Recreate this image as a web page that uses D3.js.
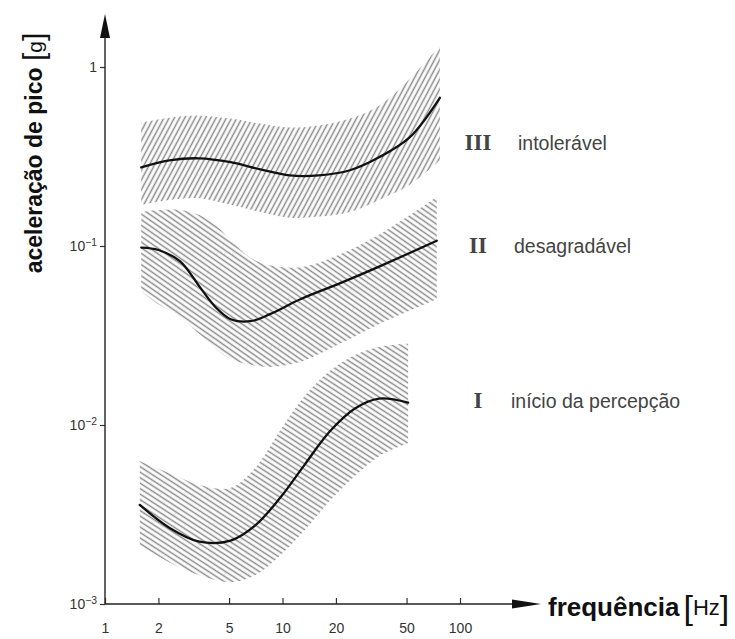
<!DOCTYPE html>
<html><head><meta charset="utf-8">
<script src="https://cdn.jsdelivr.net/npm/d3@7"></script>
<style>body{margin:0;background:#fff}svg{display:block}</style>
</head><body><svg id="c" width="735" height="639"></svg>
<script>
// ---------- data ----------
const xTicks = [1, 2, 5, 10, 20, 50, 100];
const yTicks = [1e-3, 1e-2, 1e-1, 1];
const yTickBase = ["10", "10", "10", "1"];
const yTickExp = ["−3", "−2", "−1", ""];

// Zone III – intolerável
const freqIII = [1.6, 2.3, 3.4, 5.1, 7.5, 11, 16, 24, 35, 52, 77];
const midIII  = [0.275, 0.301, 0.309, 0.294, 0.268, 0.248, 0.248, 0.265, 0.313, 0.404, 0.673];
const upIII   = [0.489, 0.521, 0.535, 0.515, 0.483, 0.459, 0.471, 0.515, 0.608, 0.858, 1.31];
const lowIII  = [0.170, 0.181, 0.185, 0.170, 0.155, 0.144, 0.146, 0.155, 0.181, 0.219, 0.301];

// Zone II – desagradável
const freqII = [1.6, 2.0, 2.65, 3.4, 4.2, 5.1, 6.6, 8.5, 12.6, 21, 35, 74];
const midII  = [0.098, 0.095, 0.082, 0.0595, 0.0455, 0.039, 0.038, 0.0416, 0.0504, 0.0618, 0.0767, 0.107];
const upII   = [0.155, 0.159, 0.159, 0.149, 0.131, 0.108, 0.086, 0.078, 0.076, 0.0895, 0.116, 0.188];
const lowII  = [0.0558, 0.0472, 0.040, 0.0322, 0.0266, 0.0234, 0.0217, 0.0211, 0.0225, 0.0284, 0.0366, 0.0504];

// Zone I – início da percepção
const freqI = [1.57, 2.3, 3.4, 5.1, 7.0, 9.7, 13.4, 18.5, 25.6, 35, 51];
const midI  = [0.00358, 0.00267, 0.00223, 0.00226, 0.00274, 0.00392, 0.00605, 0.00922, 0.01236, 0.01404, 0.01334];
const upI   = [0.00628, 0.00539, 0.00462, 0.00445, 0.00575, 0.00933, 0.0146, 0.0201, 0.0246, 0.0273, 0.0284];
const lowI  = [0.00212, 0.00171, 0.001446, 0.001322, 0.001446, 0.001867, 0.0026, 0.00377, 0.00519, 0.0067, 0.0079];

const zoneNumerals = ["III", "II", "I"];
const zoneNames = ["intolerável", "desagradável", "início da percepção"];

// ---------- drawing ----------
const svg = d3.select("#c");
const x = d3.scaleLog().domain([1, 100]).range([105, 460]);
const y = d3.scaleLog().domain([1e-3, 1]).range([604, 67]);

const defs = svg.append("defs");
function hatch(id, angle, spacing) {
  const p = defs.append("pattern").attr("id", id)
    .attr("patternUnits", "userSpaceOnUse")
    .attr("width", spacing).attr("height", spacing)
    .attr("patternTransform", `rotate(${angle})`);
  p.append("line").attr("x1", -1).attr("x2", spacing + 1)
    .attr("y1", spacing / 2).attr("y2", spacing / 2)
    .attr("stroke", "#8a8a8a").attr("stroke-width", 1.5);
}
hatch("hIII", -62, 4.6);
hatch("hII", 35, 4.6);
hatch("hI", 33, 4.6);
defs.append("filter").attr("id", "soft")
  .append("feGaussianBlur").attr("stdDeviation", 0.45);

const zones = [
  {f: freqIII, m: midIII, u: upIII, l: lowIII, pat: "hIII"},
  {f: freqII,  m: midII,  u: upII,  l: lowII,  pat: "hII"},
  {f: freqI,   m: midI,   u: upI,   l: lowI,   pat: "hI"}
];

const area = d3.area().x(d => x(d.f)).y0(d => y(d.l)).y1(d => y(d.u))
  .curve(d3.curveCatmullRom.alpha(0.5));
const line = d3.line().x(d => x(d.f)).y(d => y(d.m))
  .curve(d3.curveCatmullRom.alpha(0.5));

const bandG = svg.append("g").attr("filter", "url(#soft)");
zones.forEach(z => {
  const pts = z.f.map((f, i) => ({f, m: z.m[i], u: z.u[i], l: z.l[i]}));
  bandG.append("path").attr("d", area(pts)).attr("fill", `url(#${z.pat})`);
});
zones.forEach(z => {
  const pts = z.f.map((f, i) => ({f, m: z.m[i]}));
  svg.append("path").attr("d", line(pts)).attr("fill", "none")
    .attr("stroke", "#111").attr("stroke-width", 2.3).attr("stroke-linecap", "round");
});

// axes
const font = "'Liberation Sans', Arial, sans-serif";
const gx = svg.append("g").attr("transform", `translate(0,${y(1e-3)})`)
  .call(d3.axisBottom(x).tickValues(xTicks).tickFormat(d3.format("d"))
    .tickSize(-6).tickPadding(19));
gx.select(".domain").remove();
gx.selectAll("line").attr("stroke", "#333").attr("stroke-width", 1.2);
gx.selectAll("text").attr("font-family", font).attr("font-size", 14).attr("fill", "#333");

const gy = svg.append("g").attr("transform", `translate(${x(1)},0)`)
  .call(d3.axisLeft(y).tickValues(yTicks).tickSize(5).tickPadding(3).tickFormat(""));
gy.select(".domain").remove();
gy.selectAll("line").attr("stroke", "#333").attr("stroke-width", 1.2);
gy.selectAll(".tick text").each(function(d) {
  const i = yTicks.indexOf(d);
  const t = d3.select(this).text(null)
    .attr("font-family", font).attr("font-size", 14).attr("fill", "#333");
  t.append("tspan").text(yTickBase[i]);
  if (yTickExp[i]) t.append("tspan").attr("dy", "-0.45em").attr("font-size", "0.74em").text(yTickExp[i]);
});

// axis lines with arrows
const x0 = x(1), yb = y(1e-3);
svg.append("line").attr("x1", x0).attr("x2", 514).attr("y1", yb).attr("y2", yb)
  .attr("stroke", "#222").attr("stroke-width", 1.4);
svg.append("path").attr("d", `M512,${yb - 4.5}L541,${yb}L512,${yb + 4.5}Z`).attr("fill", "#111");
svg.append("line").attr("x1", x0).attr("x2", x0).attr("y1", yb).attr("y2", 36)
  .attr("stroke", "#222").attr("stroke-width", 1.4);
svg.append("path").attr("d", `M${x0 - 5},38L${x0},14L${x0 + 5},38Z`).attr("fill", "#111");

// axis titles
const xt = svg.append("text").attr("x", 548).attr("y", 616)
  .attr("font-family", font).attr("fill", "#111");
xt.append("tspan").attr("font-size", 26).attr("font-weight", "bold").text("frequência");
xt.append("tspan").attr("font-size", 34).attr("font-weight", "300").attr("dx", 4).attr("dy", 3).text("[");
xt.append("tspan").attr("font-size", 22).attr("dy", -4).text("Hz");
xt.append("tspan").attr("font-size", 34).attr("font-weight", "300").attr("dy", 4).text("]");

const yt = svg.append("text").attr("transform", "translate(42,153) rotate(-90)")
  .attr("text-anchor", "middle").attr("font-family", font).attr("fill", "#111");
yt.append("tspan").attr("font-size", 23).attr("font-weight", "bold").text("aceleração de pico ");
yt.append("tspan").attr("font-size", 30).attr("dy", 2).text("[");
yt.append("tspan").attr("font-size", 21).attr("dy", -2).text("g");
yt.append("tspan").attr("font-size", 30).attr("dy", 2).text("]");

// zone labels
const labelY = [150, 253, 408];
zoneNumerals.forEach((n, i) => {
  svg.append("text").attr("x", 478).attr("y", labelY[i]).attr("text-anchor", "middle")
    .attr("font-family", "'Liberation Serif', 'DejaVu Serif', serif").attr("font-weight", "bold")
    .attr("font-size", 23).attr("fill", "#444").text(n);
  svg.append("text").attr("x", [518, 514, 511][i]).attr("y", labelY[i])
    .attr("font-family", font).attr("font-size", 19.5).attr("fill", "#444").text(zoneNames[i]);
});
</script></body></html>
